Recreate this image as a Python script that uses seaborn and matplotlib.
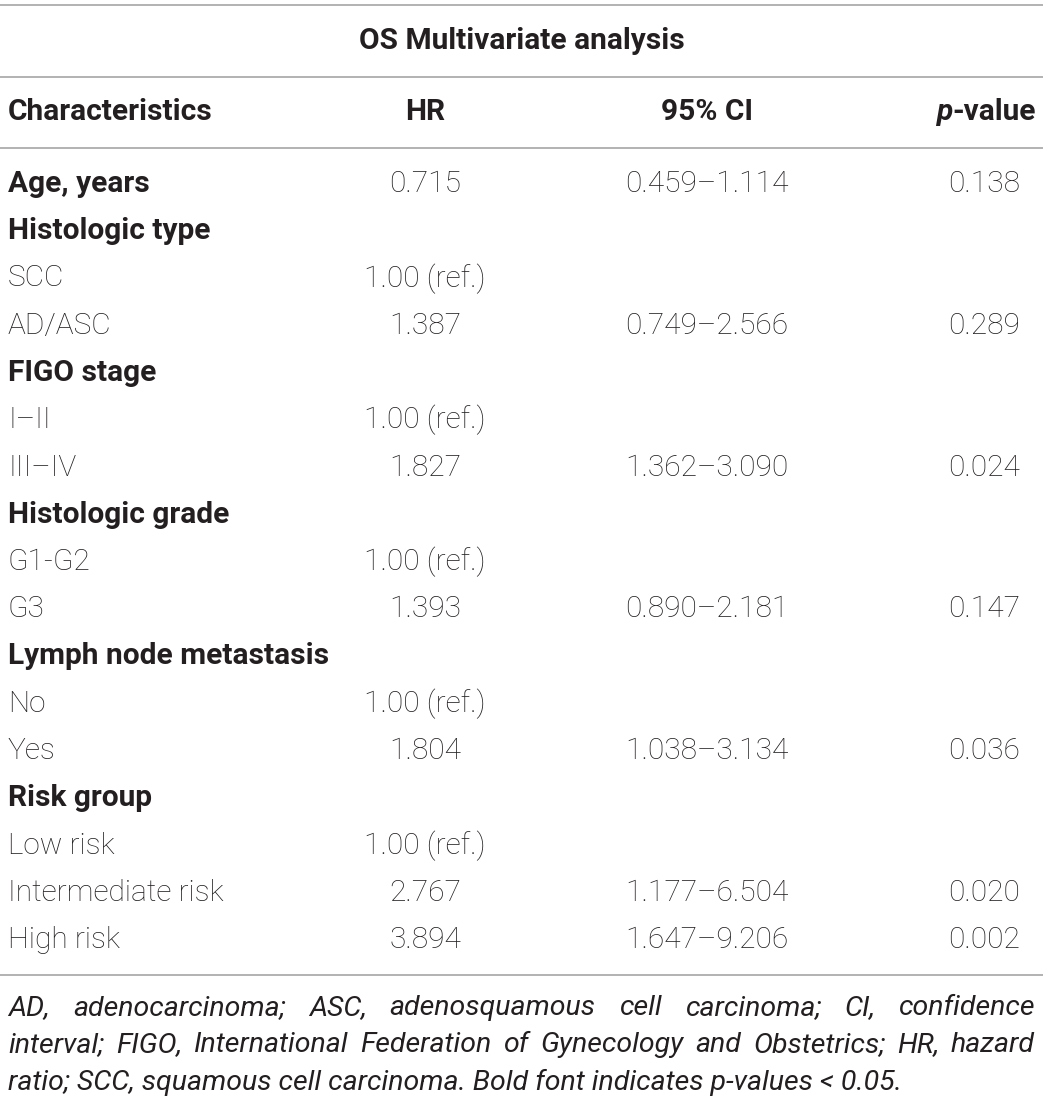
import matplotlib
matplotlib.use("Agg")
import matplotlib.pyplot as plt
import seaborn as sns

# table content
title = "OS Multivariate analysis"
headers = ["Characteristics", "HR", "95% CI", "-value"]
characteristics = ["Age, years", "Histologic type", "SCC", "AD/ASC", "FIGO stage",
                   "I–II", "III–IV", "Histologic grade", "G1-G2", "G3",
                   "Lymph node metastasis", "No", "Yes", "Risk group",
                   "Low risk", "Intermediate risk", "High risk"]
is_group = [True, True, False, False, True, False, False, True, False, False,
            True, False, False, True, False, False, False]
hr = ["0.715", "", "1.00 (ref.)", "1.387", "", "1.00 (ref.)", "1.827", "",
      "1.00 (ref.)", "1.393", "", "1.00 (ref.)", "1.804", "", "1.00 (ref.)",
      "2.767", "3.894"]
ci = ["0.459–1.114", "", "", "0.749–2.566", "", "", "1.362–3.090", "", "",
      "0.890–2.181", "", "", "1.038–3.134", "", "", "1.177–6.504", "1.647–9.206"]
pval = ["0.138", "", "", "0.289", "", "", "0.024", "", "", "0.147", "", "",
        "0.036", "", "", "0.020", "0.002"]
footnote_lines = [
    "AD, adenocarcinoma; ASC, adenosquamous cell carcinoma; CI, confidence",
    "interval; FIGO, International Federation of Gynecology and Obstetrics; HR, hazard",
    "ratio; SCC, squamous cell carcinoma. Bold font indicates p-values < 0.05.",
]

sns.set_theme(style="white")
plt.rcParams['font.family'] = ['Roboto', 'DejaVu Sans']
foot_family = ['Liberation Sans Narrow', 'Roboto', 'DejaVu Sans']

W, H = 1043, 1100
fig = plt.figure(figsize=(W / 100, H / 100), dpi=100)
ax = fig.add_axes([0, 0, 1, 1])
ax.set_xlim(0, W)
ax.set_ylim(H, 0)
ax.axis("off")
renderer = fig.canvas.get_renderer()

txt = "#231f20"
rule = "#a6a6a6"
fs = 21.5

# horizontal rules
for y in [5, 77, 148, 975]:
    ax.hlines(y, 0, W, color=rule, lw=1.2)

ax.text(W / 2, 41, title, ha="center", va="center", fontsize=fs,
        fontweight="bold", color=txt)

hy = 112
ax.text(8, hy, headers[0], ha="left", va="center", fontsize=fs,
        fontweight="bold", color=txt)
ax.text(425, hy, headers[1], ha="center", va="center", fontsize=fs,
        fontweight="bold", color=txt)
ax.text(707, hy, headers[2], ha="center", va="center", fontsize=fs,
        fontweight="bold", color=txt)
tv = ax.text(1036, hy, headers[3], ha="right", va="center", fontsize=fs,
             fontweight="bold", color=txt)
vx0 = ax.transData.inverted().transform(
    (tv.get_window_extent(renderer).x0, 0))[0]
ax.text(vx0, hy, "p", ha="right", va="center", fontsize=fs,
        fontweight="bold", style="italic", color=txt)

y0, dy = 184, 47.25
for i, name in enumerate(characteristics):
    y = y0 + i * dy
    ax.text(8, y, name, ha="left", va="center", fontsize=fs, color=txt,
            fontweight="bold" if is_group[i] else "light")
    ax.text(425, y, hr[i], ha="center", va="center", fontsize=fs, color=txt,
            fontweight="light")
    ax.text(707, y, ci[i], ha="center", va="center", fontsize=fs, color=txt,
            fontweight="light")
    ax.text(984, y, pval[i], ha="center", va="center", fontsize=fs, color=txt,
            fontweight="light")

# justified footnote
left, right = 8, 1035
ffs = 20.5


def width_of(s, size):
    t = ax.text(0, 0, s, fontsize=size, style="italic", family=foot_family)
    w = t.get_window_extent(renderer).width
    t.remove()
    return w


for ln in footnote_lines:
    words = ln.split(" ")
    nat = sum(width_of(w, ffs) for w in words) + 5 * (len(words) - 1)
    if nat > right - left:
        ffs *= (right - left) / nat

fy = [1008, 1045, 1082]
for li, ln in enumerate(footnote_lines):
    y = fy[li]
    ws = ln.split(" ")
    if li == len(footnote_lines) - 1:
        ax.text(left, y, ln, ha="left", va="center", fontsize=ffs,
                style="italic", family=foot_family, color=txt)
        continue
    widths = [width_of(w, ffs) for w in ws]
    gap = (right - left - sum(widths)) / (len(ws) - 1)
    x = left
    for w, wd in zip(ws, widths):
        ax.text(x, y, w, ha="left", va="center", fontsize=ffs,
                style="italic", family=foot_family, color=txt)
        x += wd + gap

fig.savefig("out.png", dpi=100)
